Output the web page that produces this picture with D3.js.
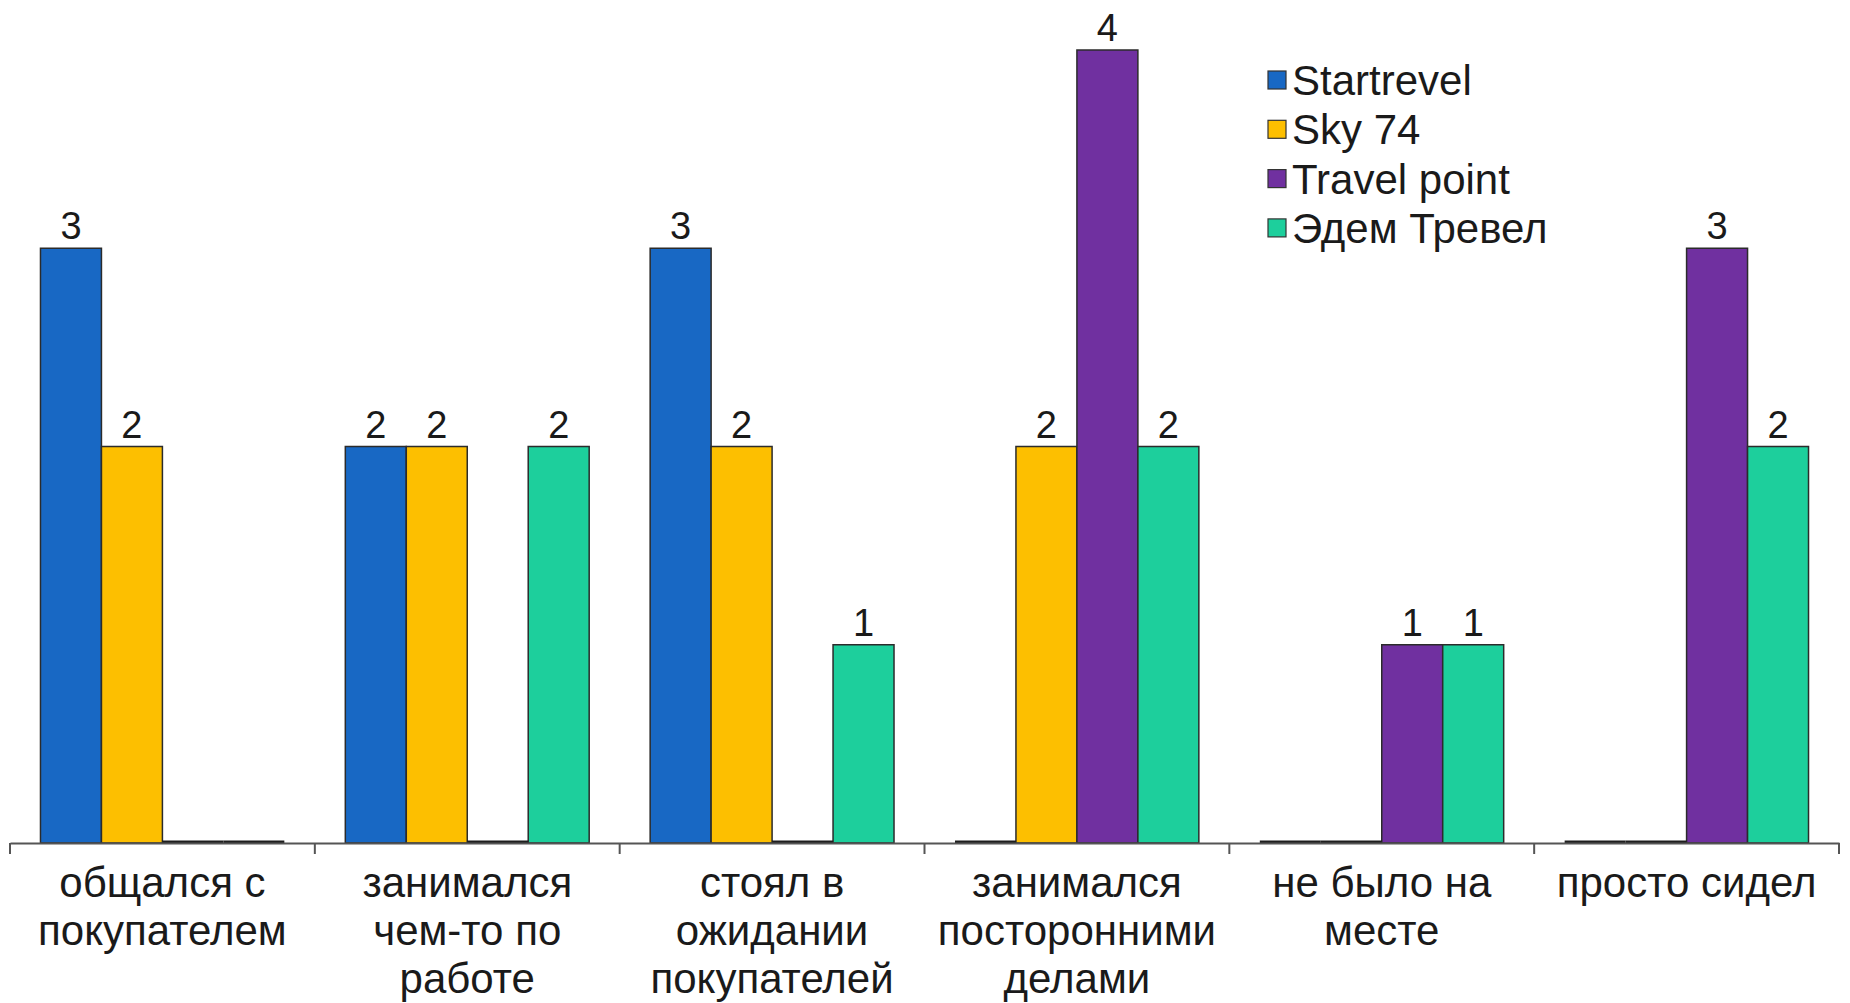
<!DOCTYPE html>
<html lang="ru">
<head>
<meta charset="utf-8">
<script src="https://cdn.jsdelivr.net/npm/d3@7"></script>
<style>
  html, body { margin: 0; padding: 0; background: #ffffff; }
  svg { display: block; font-family: "Liberation Sans", Arial, sans-serif; }
</style>
</head>
<body>
<svg id="chart" width="1850" height="1003"></svg>
<script>
// Observed activity per travel agency
const categories = [
  "общался с\nпокупателем",
  "занимался\nчем-то по\nработе",
  "стоял в\nожидании\nпокупателей",
  "занимался\nпосторонними\nделами",
  "не было на\nместе",
  "просто сидел"
];
const seriesNames = ["Startrevel", "Sky 74", "Travel point", "Эдем Тревел"];
const startrevel  = [3, 2, 3, 0, 0, 0];
const sky74       = [2, 2, 2, 2, 0, 0];
const travelPoint = [0, 0, 0, 4, 1, 3];
const edemTravel  = [0, 2, 1, 2, 1, 2];
const seriesColors = ["#1868c4", "#fdbf00", "#7030a0", "#1dcf9c"];

const series = [startrevel, sky74, travelPoint, edemTravel];

const svg = d3.select("#chart");
const margin = { left: 10, right: 11, top: 50, bottom: 160 };
const width = 1850, height = 1003;
const baseY = height - margin.bottom; // 843

const x0 = d3.scaleBand()
  .domain(d3.range(categories.length))
  .range([margin.left, width - margin.right])
  .paddingInner(0)
  .paddingOuter(0);

// bars fill 80% of each category slot, half a bar of space on each side
const x1 = d3.scaleBand()
  .domain(d3.range(series.length))
  .range([0, x0.bandwidth()])
  .paddingOuter(0.5)
  .paddingInner(0);

const y = d3.scaleLinear().domain([0, 4]).range([baseY, margin.top]);

// flatten into bar records
const bars = [];
categories.forEach((c, ci) => {
  series.forEach((s, si) => bars.push({ ci, si, v: s[ci] }));
});

const g = svg.append("g");

// bars with a value
g.selectAll("rect.bar")
  .data(bars.filter(d => d.v > 0))
  .join("rect")
  .attr("class", "bar")
  .attr("x", d => x0(d.ci) + x1(d.si))
  .attr("y", d => y(d.v))
  .attr("width", x1.bandwidth())
  .attr("height", d => y(0) - y(d.v))
  .attr("fill", d => seriesColors[d.si])
  .attr("stroke", "#2b2b2b")
  .attr("stroke-width", 1.5);

// empty bars collapse to a dark edge on the baseline
g.selectAll("line.zero")
  .data(bars.filter(d => d.v === 0))
  .join("line")
  .attr("class", "zero")
  .attr("x1", d => x0(d.ci) + x1(d.si))
  .attr("x2", d => x0(d.ci) + x1(d.si) + x1.bandwidth())
  .attr("y1", y(0) - 1)
  .attr("y2", y(0) - 1)
  .attr("stroke", "#1e1e1e")
  .attr("stroke-width", 3);

// value labels
g.selectAll("text.val")
  .data(bars.filter(d => d.v > 0))
  .join("text")
  .attr("class", "val")
  .attr("x", d => x0(d.ci) + x1(d.si) + x1.bandwidth() / 2)
  .attr("y", d => y(d.v) - 9)
  .attr("text-anchor", "middle")
  .attr("font-size", 38)
  .attr("fill", "#1a1a1a")
  .text(d => d.v);

// category axis
const axis = d3.axisBottom(x0)
  .tickValues([])
  .tickSizeOuter(0);
const axisG = svg.append("g").attr("transform", `translate(0,${baseY})`).call(axis);
axisG.select(".domain").attr("stroke", "#555").attr("stroke-width", 2);

const boundaries = d3.range(categories.length + 1).map(i =>
  i < categories.length ? x0(i) : x0(i - 1) + x0.bandwidth());
axisG.selectAll("line.tick-mark")
  .data(boundaries)
  .join("line")
  .attr("class", "tick-mark")
  .attr("x1", d => d).attr("x2", d => d)
  .attr("y1", 0).attr("y2", 11)
  .attr("stroke", "#555").attr("stroke-width", 2);

// category labels, one tspan per line
const labels = svg.append("g").selectAll("text.cat")
  .data(categories)
  .join("text")
  .attr("class", "cat")
  .attr("text-anchor", "middle")
  .attr("font-size", 42)
  .attr("fill", "#1a1a1a")
  .attr("transform", (d, i) => `translate(${x0(i) + x0.bandwidth() / 2},${baseY + 54})`);
labels.selectAll("tspan")
  .data(d => d.split("\n"))
  .join("tspan")
  .attr("x", 0)
  .attr("y", (d, i) => i * 48)
  .text(d => d);

// legend
const legend = svg.append("g").attr("transform", "translate(1268,80)");
const items = legend.selectAll("g")
  .data(seriesNames)
  .join("g")
  .attr("transform", (d, i) => `translate(0,${i * 49.3})`);
items.append("rect")
  .attr("x", 0).attr("y", -9)
  .attr("width", 18).attr("height", 18)
  .attr("fill", (d, i) => seriesColors[i])
  .attr("stroke", "#333").attr("stroke-width", 1.2);
items.append("text")
  .attr("x", 24).attr("y", 15)
  .attr("font-size", 42)
  .attr("fill", "#1a1a1a")
  .text(d => d);
</script>
</body>
</html>
